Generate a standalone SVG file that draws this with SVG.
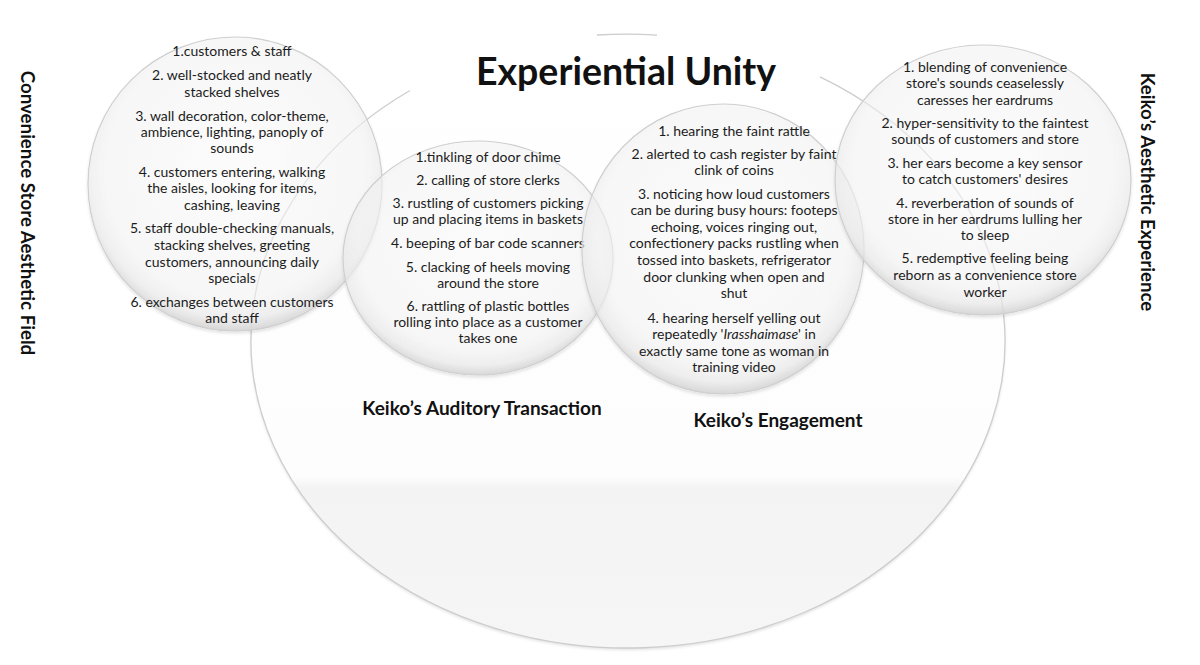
<svg xmlns="http://www.w3.org/2000/svg" width="1200" height="665" viewBox="0 0 1200 665">
<style>
.t{font-family:Lato,"Open Sans","Liberation Sans",sans-serif;font-size:14px;fill:#1c1c1c;text-anchor:middle}
.h{font-family:Lato,"Open Sans","Liberation Sans",sans-serif;font-weight:bold;fill:#111;text-anchor:middle}
.bub{fill:url(#bubG);stroke:#cfcfcf;stroke-width:1.2}
.edge{fill:none;stroke:#cdcdcd;stroke-width:1.3}
</style>
<defs>
<radialGradient id="bubG" cx="50%" cy="45%" r="55%">
<stop offset="0" stop-color="#ffffff" stop-opacity="0.55"/>
<stop offset="0.8" stop-color="#f7f7f7" stop-opacity="0.55"/>
<stop offset="0.92" stop-color="#ececec" stop-opacity="0.7"/>
<stop offset="1" stop-color="#d4d4d4" stop-opacity="0.9"/>
</radialGradient>
<linearGradient id="bigG" x1="0" y1="0" x2="0" y2="1">
<stop offset="0" stop-color="#ffffff"/>
<stop offset="0.72" stop-color="#fdfdfd"/>
<stop offset="0.74" stop-color="#f3f3f3"/>
<stop offset="1" stop-color="#f6f6f6"/>
</linearGradient>
<filter id="sh" x="-10%" y="-10%" width="120%" height="125%">
<feDropShadow dx="0" dy="2" stdDeviation="1.5" flood-color="#000" flood-opacity="0.12"/>
</filter>
</defs>
<rect width="1200" height="665" fill="#fff"/>

<g id="unity">
<ellipse cx="628" cy="341" rx="377" ry="307" fill="url(#bigG)" filter="url(#sh)"/>
<path class="edge" d="M 410 90.5 A 377 307 0 1 0 820 76.8"/>
<path class="edge" d="M 597 35 A 377 307 0 0 1 657 35.1"/>
<text class="h" x="626" y="85" font-size="37.5">Experiential Unity</text>
</g>

<g id="field">
<circle class="bub" cx="235" cy="184" r="147" filter="url(#sh)"/>
<text class="t" x="232" y="56">1.customers &amp; staff</text>
<text class="t" x="232" y="80">2. well-stocked and neatly</text>
<text class="t" x="232" y="97">stacked shelves</text>
<text class="t" x="232" y="121">3. wall decoration, color-theme,</text>
<text class="t" x="232" y="137">ambience, lighting, panoply of</text>
<text class="t" x="232" y="153">sounds</text>
<text class="t" x="232" y="177">4. customers entering, walking</text>
<text class="t" x="232" y="193">the aisles, looking for items,</text>
<text class="t" x="232" y="210">cashing, leaving</text>
<text class="t" x="232" y="233">5. staff double-checking manuals,</text>
<text class="t" x="232" y="250">stacking shelves, greeting</text>
<text class="t" x="232" y="267">customers, announcing daily</text>
<text class="t" x="232" y="283">specials</text>
<text class="t" x="232" y="307">6. exchanges between customers</text>
<text class="t" x="232" y="323">and staff</text>
<text class="h" font-size="18.7" transform="translate(21,213) rotate(90)">Convenience Store Aesthetic Field</text>
</g>

<g id="auditory">
<ellipse class="bub" cx="478" cy="258" rx="135" ry="117" filter="url(#sh)"/>
<text class="t" x="488" y="162">1.tinkling of door chime</text>
<text class="t" x="488" y="185">2. calling of store clerks</text>
<text class="t" x="488" y="208">3. rustling of customers picking</text>
<text class="t" x="488" y="224">up and placing items in baskets</text>
<text class="t" x="488" y="248">4. beeping of bar code scanners</text>
<text class="t" x="488" y="272">5. clacking of heels moving</text>
<text class="t" x="488" y="288">around the store</text>
<text class="t" x="488" y="311">6. rattling of plastic bottles</text>
<text class="t" x="488" y="327">rolling into place as a customer</text>
<text class="t" x="488" y="343">takes one</text>
<text class="h" font-size="19" x="482" y="415">Keiko’s Auditory Transaction</text>
</g>

<g id="engagement">
<ellipse class="bub" cx="723" cy="249" rx="141" ry="145" filter="url(#sh)"/>
<text class="t" x="734" y="136">1. hearing the faint rattle</text>
<text class="t" x="734" y="159">2. alerted to cash register by faint</text>
<text class="t" x="734" y="175">clink of coins</text>
<text class="t" x="734" y="199">3. noticing how loud customers</text>
<text class="t" x="734" y="215">can be during busy hours: footeps</text>
<text class="t" x="734" y="232">echoing, voices ringing out,</text>
<text class="t" x="734" y="248">confectionery packs rustling when</text>
<text class="t" x="734" y="265">tossed into baskets, refrigerator</text>
<text class="t" x="734" y="282">door clunking when open and</text>
<text class="t" x="734" y="298">shut</text>
<text class="t" x="734" y="323">4. hearing herself yelling out</text>
<text class="t" x="734" y="339">repeatedly '<tspan font-style="italic">Irasshaimase</tspan>' in</text>
<text class="t" x="734" y="356">exactly same tone as woman in</text>
<text class="t" x="734" y="372">training video</text>
<text class="h" font-size="19" x="778" y="427">Keiko’s Engagement</text>
</g>

<g id="experience">
<ellipse class="bub" cx="983" cy="180" rx="148" ry="135" filter="url(#sh)"/>
<text class="t" x="985" y="72">1. blending of convenience</text>
<text class="t" x="985" y="88">store's sounds ceaselessly</text>
<text class="t" x="985" y="105">caresses her eardrums</text>
<text class="t" x="985" y="128">2. hyper-sensitivity to the faintest</text>
<text class="t" x="985" y="144">sounds of customers and store</text>
<text class="t" x="985" y="168">3. her ears become a key sensor</text>
<text class="t" x="985" y="184">to catch customers' desires</text>
<text class="t" x="985" y="208">4.  reverberation of sounds of</text>
<text class="t" x="985" y="224">store in her eardrums lulling her</text>
<text class="t" x="985" y="240">to sleep</text>
<text class="t" x="985" y="263">5. redemptive feeling being</text>
<text class="t" x="985" y="280">reborn as a convenience store</text>
<text class="t" x="985" y="297">worker</text>
<text class="h" font-size="18.7" transform="translate(1141,192) rotate(90)">Keiko’s Aesthetic Experience</text>
</g>
</svg>
